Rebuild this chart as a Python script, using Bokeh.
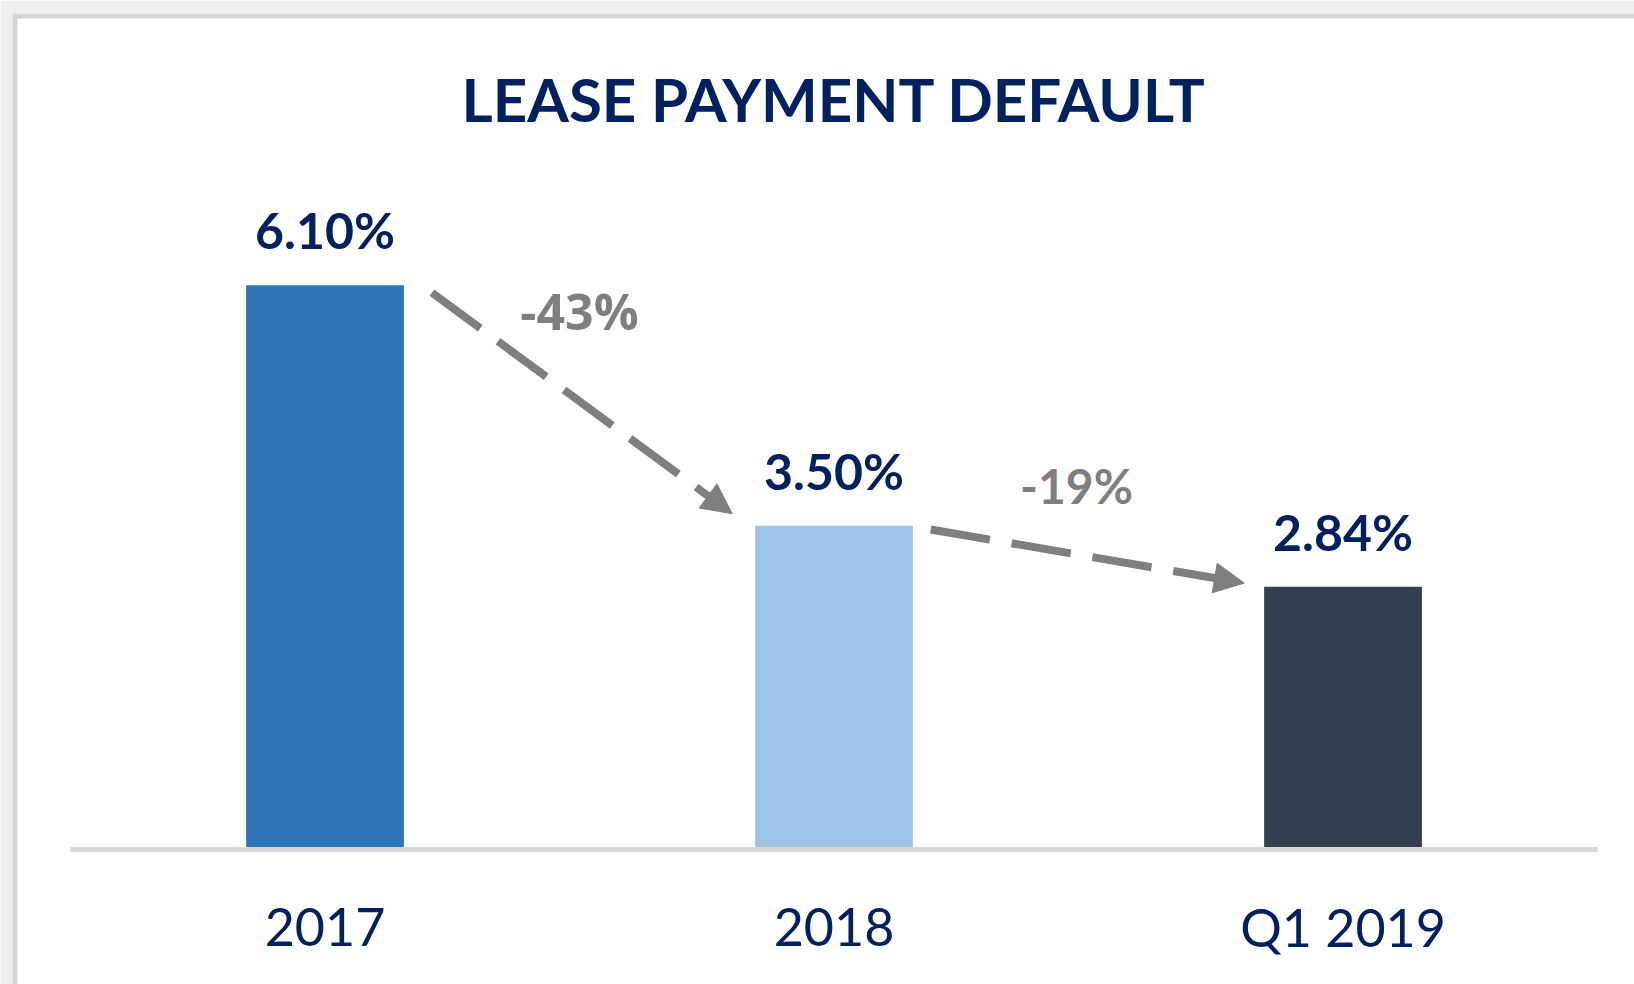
from bokeh.plotting import figure
from bokeh.models import Range1d, ColumnDataSource, Arrow, NormalHead, Span
from bokeh.core.properties import value
from bokeh.embed import file_html
from bokeh.resources import INLINE

# ---------------- data ----------------
title_text = "LEASE PAYMENT DEFAULT"
categories = ["2017", "2018", "Q1 2019"]
default_rate = [6.10, 3.50, 2.84]
rate_labels = ["6.10%", "3.50%", "2.84%"]
change_labels = ["-43%", "-19%"]
bar_colors = ["#2e75b6", "#9dc3e6", "#333f50"]

# ---------------- layout / style ----------------
W, H = 1634, 984
FRAME_LEFT, FRAME_TOP = 12, 13
X_START = -0.614
X_END = X_START + (W - FRAME_LEFT) / 509.0
Y_END = (849 - FRAME_TOP) / 92.5
Y_START = -(H - 849) / 92.5
NAVY = "#002060"
GREY = "#7f7f7f"
n = len(categories)
xs = list(range(n))

p = figure(width=W, height=H, output_backend="svg", toolbar_location=None,
           x_range=Range1d(X_START, X_END), y_range=Range1d(Y_START, Y_END),
           x_axis_location=None, y_axis_location=None,
           min_border_left=FRAME_LEFT, min_border_top=FRAME_TOP,
           min_border_right=0, min_border_bottom=0)
p.grid.visible = False
p.outline_line_color = None
p.border_fill_color = "#efefeb"
p.background_fill_color = "white"

# panel border (left and top edges)
p.add_layout(Span(location=X_START, dimension="height", line_color="#d6d6d6", line_width=10))
p.add_layout(Span(location=Y_END, dimension="width", line_color="#d6d6d6", line_width=10))

# bars
bars = ColumnDataSource(dict(x=xs, top=default_rate, color=bar_colors, lab=rate_labels,
                             cat=categories, zero=[0] * n))
p.vbar(x="x", top="top", bottom=0, width=0.31, fill_color="color", line_color=None, source=bars)

# baseline
p.segment(x0=[-0.5], y0=[0], x1=[n - 0.5], y1=[0], line_color="#d9d9d9", line_width=5)

# value labels
p.text(x="x", y="top", text="lab", source=bars, text_align="center", text_baseline="alphabetic",
       y_offset=-55, text_font=value("Lato"), text_font_style="bold", text_font_size="50px",
       text_color=NAVY)

# category labels
p.text(x="x", y="zero", text="cat", source=bars, text_align="center", text_baseline="alphabetic",
       y_offset=77, text_font=value("Lato"), text_font_size="52px", text_color=NAVY)

# title
p.text(x=[(n - 1) / 2], y=[Y_END], text=[title_text], text_align="center",
       text_baseline="alphabetic", y_offset=85, text_font=value("Lato"),
       text_font_style="bold", text_font_size="60px", text_color=NAVY)

# change arrows
start_dx = [0.21, 0.19]
start_dy = [-0.08, -0.04]
end_dx = [0.8, 0.806]
end_dy = [0.13, 0.04]
arr = ColumnDataSource(dict(
    x0=[i + start_dx[i] for i in range(n - 1)],
    y0=[default_rate[i] + start_dy[i] for i in range(n - 1)],
    x1=[i + end_dx[i] for i in range(n - 1)],
    y1=[default_rate[i + 1] + end_dy[i] for i in range(n - 1)],
))
p.add_layout(Arrow(end=NormalHead(size=30, fill_color=GREY, line_color=GREY, line_width=1),
                   source=arr, x_start="x0", y_start="y0", x_end="x1", y_end="y1",
                   line_color=GREY, line_width=8, line_dash="60 22"))

# change labels
chg = ColumnDataSource(dict(
    x=[i + 0.5 for i in range(n - 1)],
    y=[max(default_rate[i], default_rate[i + 1]) for i in range(n - 1)],
    t=change_labels,
    dx=[0, -12],
    dy=[26, -40],
    font=["Open Sans", "Lato"],
    size=["50px", "48px"],
))
p.text(x="x", y="y", text="t", source=chg, x_offset="dx", y_offset="dy",
       text_align="center", text_baseline="middle", text_font="font",
       text_font_style="bold", text_font_size="size", text_color=GREY)

open("out.html", "w").write(file_html(p, INLINE))
